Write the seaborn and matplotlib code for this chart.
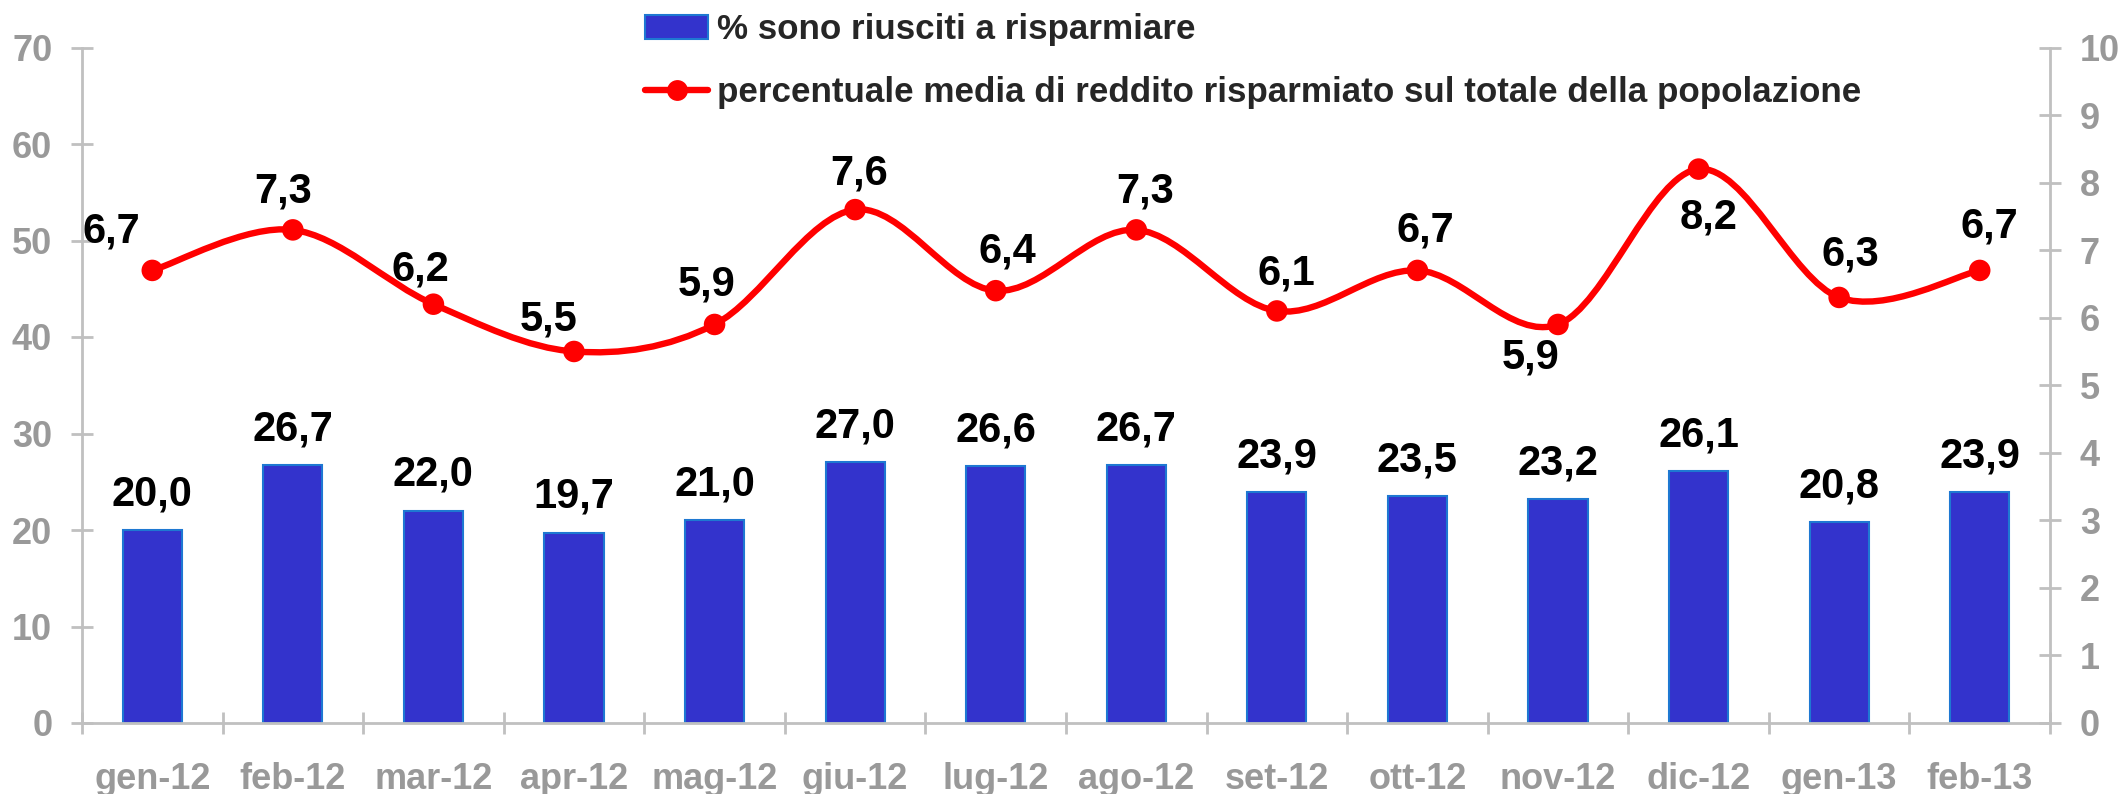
import numpy as np
import pandas as pd
import matplotlib
matplotlib.use("Agg")
import matplotlib.pyplot as plt
from matplotlib.path import Path
from matplotlib.patches import PathPatch, Patch
from matplotlib.lines import Line2D
import seaborn as sns

# ---------------- data ----------------
months = ["gen-12", "feb-12", "mar-12", "apr-12", "mag-12", "giu-12", "lug-12",
          "ago-12", "set-12", "ott-12", "nov-12", "dic-12", "gen-13", "feb-13"]
saved_share = [20.0, 26.7, 22.0, 19.7, 21.0, 27.0, 26.6, 26.7, 23.9, 23.5, 23.2, 26.1, 20.8, 23.9]
income_saved = [6.7, 7.3, 6.2, 5.5, 5.9, 7.6, 6.4, 7.3, 6.1, 6.7, 5.9, 8.2, 6.3, 6.7]
left_ticks = [0, 10, 20, 30, 40, 50, 60, 70]
right_ticks = [0, 1, 2, 3, 4, 5, 6, 7, 8, 9, 10]
bar_label = "% sono riusciti a risparmiare"
line_label = "percentuale media di reddito risparmiato sul totale della popolazione"

# label placement (pixel offsets of label centre / baseline from the point)
line_lbl_dx = [-41, -10, -13, -25, -8, 4, 12, 9, 10, 8, -27, 10, 11, 10]
line_lbl_dy = [28, 27, 24, 21, 29, 25, 28, 27, 26, 29, -44, -59, 32, 33]

# ---------------- style ----------------
sns.set_style("white")
plt.rcParams["font.family"] = ["Liberation Sans", "DejaVu Sans"]
plt.rcParams["font.weight"] = "bold"

BAR_C = "#3333CC"
BAR_EDGE = "#1E78D2"
LINE_C = "#FF0000"
GREY = "#999999"
AXIS_C = "#C0C0C0"
TICK_FS = 26
LBL_FS = 30

W, H = 2120, 794
fig = plt.figure(figsize=(W / 100, H / 100), dpi=100)
ax = fig.add_axes([82 / W, 71 / H, (2050 - 82) / W, (723 - 47.5) / H])

df = pd.DataFrame({"month": months, "share": saved_share, "inc": income_saved})

sns.barplot(data=df, x="month", y="share", color=BAR_C, saturation=1,
            width=0.42, edgecolor=BAR_EDGE, linewidth=1.5, ax=ax, zorder=2)
ax.set_xlim(-0.5, len(months) - 0.5)
ax.set_ylim(0, 70)
ax.set_yticks(left_ticks)
ax.set_xlabel("")
ax.set_ylabel("")

# bar labels
for i, v in enumerate(saved_share):
    ax.annotate(f"{v:.1f}".replace(".", ","), (i, v), xytext=(0, 25),
                textcoords="offset pixels", ha="center", va="baseline",
                fontsize=LBL_FS, fontweight="bold", color="black", zorder=5)

# secondary axis with smoothed line
ax2 = ax.twinx()
ax2.set_ylim(0, 10)
ax2.set_yticks(right_ticks)

P = np.column_stack([np.arange(len(income_saved), dtype=float), np.array(income_saved)])
verts = [P[0]]
codes = [Path.MOVETO]
n = len(P)
for i in range(n - 1):
    pp = P[i - 1] if i > 0 else P[i]
    pn = P[i + 2] if i + 2 < n else P[i + 1]
    c1 = P[i] + (P[i + 1] - pp) / 6.0
    c2 = P[i + 1] - (pn - P[i]) / 6.0
    verts += [c1, c2, P[i + 1]]
    codes += [Path.CURVE4] * 3
ax2.add_patch(PathPatch(Path(verts, codes), fill=False, edgecolor=LINE_C,
                        linewidth=4.6, capstyle="round", joinstyle="round", zorder=3))
sns.scatterplot(data=df, x=np.arange(n), y="inc", ax=ax2, color=LINE_C, s=15.5 ** 2,
                edgecolor="none", zorder=4, legend=False)
ax2.set_ylabel("")
ax2.set_xlim(-0.5, len(months) - 0.5)

for i, v in enumerate(income_saved):
    ax2.annotate(f"{v:.1f}".replace(".", ","), (i, v), xytext=(line_lbl_dx[i], line_lbl_dy[i]),
                 textcoords="offset pixels", ha="center", va="baseline",
                 fontsize=LBL_FS, fontweight="bold", color="black", zorder=6)

# spines / ticks
for a in (ax, ax2):
    a.spines["top"].set_visible(False)
    for s in ("left", "right", "bottom"):
        a.spines[s].set_color(AXIS_C)
        a.spines[s].set_linewidth(2)
    a.grid(False)
ax.spines["right"].set_visible(False)
ax2.spines["left"].set_visible(False)
ax2.spines["bottom"].set_visible(False)

tick_len = 22 * 0.72
ax.tick_params(axis="y", direction="inout", length=tick_len, width=2, color=AXIS_C,
               labelsize=TICK_FS, labelcolor=GREY, pad=13.5, left=True)
ax2.tick_params(axis="y", direction="inout", length=tick_len, width=2, color=AXIS_C,
                labelsize=TICK_FS, labelcolor=GREY, pad=13.5, right=True)
ax.set_xticks(np.arange(len(months)))
ax.set_xticklabels(months)
ax.set_xticks(np.arange(len(months) + 1) - 0.5, minor=True)
ax.tick_params(axis="x", which="major", length=0, labelsize=TICK_FS, labelcolor=GREY, pad=28)
ax.tick_params(axis="x", which="minor", direction="inout", length=tick_len, width=2,
               color=AXIS_C, bottom=True)
for lab in ax.get_xticklabels() + ax.get_yticklabels() + ax2.get_yticklabels():
    lab.set_fontweight("bold")

# legend
handles = [Patch(facecolor=BAR_C, edgecolor=BAR_EDGE, linewidth=1.5),
           Line2D([0], [0], color=LINE_C, lw=4.6, marker="o", markersize=15, markeredgewidth=0)]
fig.legend(handles, [bar_label, line_label], loc="upper left",
           bbox_to_anchor=(645 / W, 1 - 13 / H), frameon=False, borderpad=0,
           borderaxespad=0, handlelength=1.8, handletextpad=0.25, labelspacing=0.85,
           prop={"family": "Liberation Sans", "weight": "bold", "size": 25.2})

fig.savefig("out.png", dpi=100)
